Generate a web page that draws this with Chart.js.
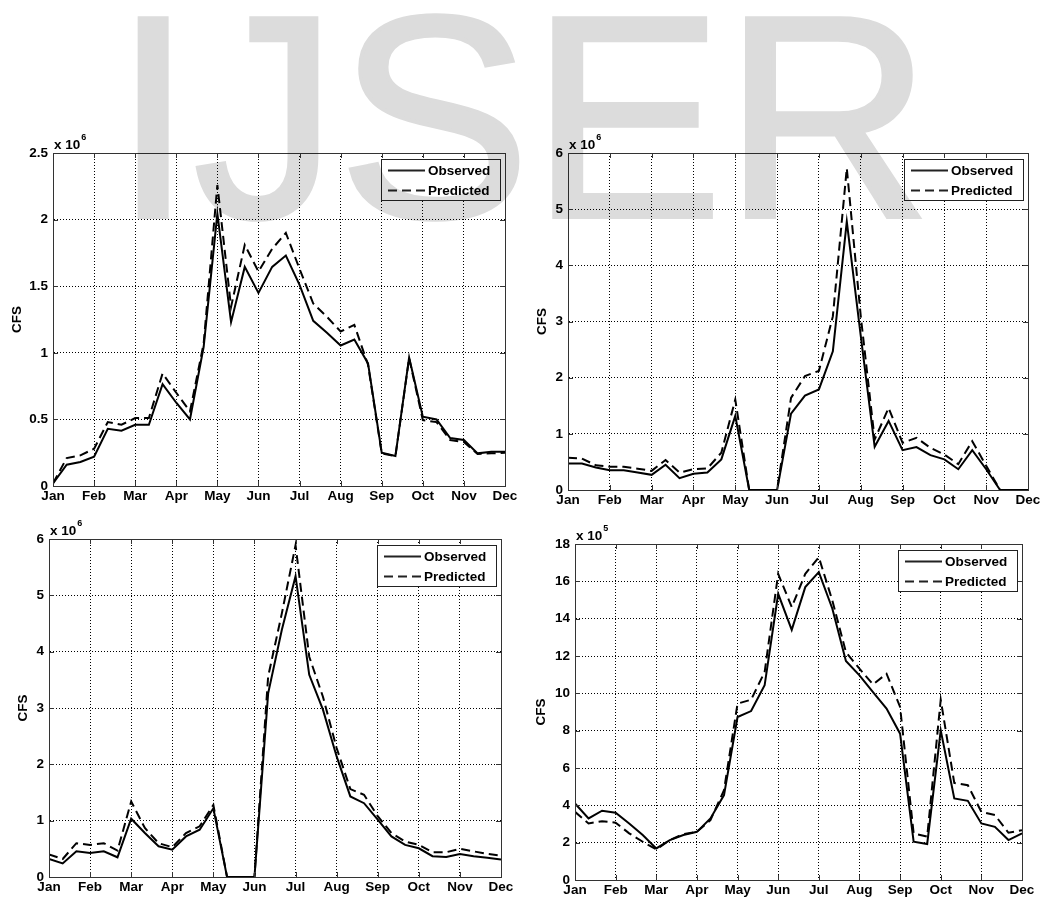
<!DOCTYPE html>
<html>
<head>
<meta charset="utf-8">
<script src="https://cdn.jsdelivr.net/npm/chart.js@4/dist/chart.umd.min.js"></script>
<style>
html,body{margin:0;padding:0;background:#fff;width:1047px;height:901px;overflow:hidden;position:relative;}
#wm{position:absolute;left:113px;top:-28px;font-family:"Liberation Sans",Arial,sans-serif;font-size:289px;line-height:289px;color:#dcdcdc;-webkit-text-stroke:4px #dcdcdc;white-space:nowrap;z-index:5;mix-blend-mode:multiply;pointer-events:none;}
canvas{position:absolute;z-index:1;}
</style>
</head>
<body>
<div id="wm">IJSER</div>
<script>
// ── data ─────────────────────────────
const MONTHS = ['Jan','Feb','Mar','Apr','May','Jun','Jul','Aug','Sep','Oct','Nov','Dec'];

// three readings per month (10-day steps), values in units of 10^expo
const obs1  = [0.02,0.16,0.18,0.22,0.43,0.415,0.46,0.46,0.765,0.625,0.50,1.045,2.045,1.23,1.645,1.45,1.645,1.73,1.51,1.24,1.15,1.055,1.10,0.92,0.25,0.225,0.965,0.52,0.50,0.36,0.345,0.245,0.258,0.258];
const pred1 = [0.02,0.21,0.23,0.28,0.48,0.46,0.51,0.51,0.845,0.70,0.56,1.07,2.26,1.345,1.81,1.61,1.78,1.90,1.63,1.37,1.27,1.16,1.21,0.91,0.245,0.225,0.96,0.495,0.48,0.345,0.33,0.24,0.245,0.25];

const obs2  = [0.47,0.47,0.40,0.35,0.35,0.31,0.27,0.45,0.21,0.29,0.31,0.545,1.32,0,0,0,1.36,1.68,1.79,2.47,4.78,2.75,0.77,1.23,0.71,0.765,0.62,0.545,0.37,0.71,0.37,0,0,0];
const pred2 = [0.575,0.56,0.44,0.415,0.415,0.38,0.34,0.535,0.31,0.37,0.385,0.665,1.61,0,0,0,1.64,2.03,2.12,3.09,5.73,3.1,0.90,1.46,0.84,0.93,0.75,0.63,0.46,0.87,0.43,0,0,0];

const obs3  = [0.32,0.24,0.455,0.425,0.455,0.35,1.035,0.78,0.545,0.485,0.72,0.84,1.22,0,0,0,3.26,4.39,5.34,3.59,2.97,2.14,1.43,1.31,1.02,0.72,0.57,0.51,0.37,0.355,0.41,0.37,0.34,0.31];
const pred3 = [0.40,0.32,0.60,0.57,0.60,0.47,1.34,0.87,0.60,0.53,0.78,0.90,1.28,0,0,0,3.56,4.68,5.89,3.91,3.20,2.29,1.56,1.46,1.08,0.78,0.63,0.57,0.44,0.44,0.50,0.455,0.41,0.38];

const obs4  = [4.10,3.30,3.71,3.60,3.03,2.41,1.69,2.14,2.41,2.58,3.30,4.55,8.73,9.05,10.43,15.33,13.40,15.69,16.49,14.53,11.73,10.96,10.07,9.18,7.84,2.05,1.93,8.02,4.37,4.24,3.03,2.85,2.14,2.50];
const pred4 = [3.65,3.03,3.15,3.07,2.50,2.05,1.64,2.14,2.46,2.58,3.21,4.81,9.45,9.66,11.14,16.40,14.62,16.40,17.29,14.97,12.21,11.32,10.48,11.05,9.27,2.50,2.32,9.66,5.20,5.08,3.65,3.48,2.53,2.67];

const yMax  = [2.5, 6, 6, 18];
const yStep = [0.5, 1, 1, 2];
const expo  = ['6','6','6','5'];
const seriesNames = ['Observed','Predicted'];

// ── layout (plot boxes in page pixels) ─
const BOXES = [
  {l:53,  t:153, r:505,  b:486, titleOff:36},
  {l:568, t:153, r:1028, b:490, titleOff:26},
  {l:49,  t:539, r:501,  b:877, titleOff:26},
  {l:575, t:544, r:1022, b:880, titleOff:34}
];

const FONT = '"Liberation Sans", Arial, sans-serif';
Chart.defaults.font.family = FONT;
Chart.defaults.color = '#000';

const toXY = arr => arr.map((v,i)=>({x:i/3, y:v}));

// matlab-like box, inward ticks, exponent and legend
const matlabBox = {
  id:'matlabBox',
  afterDraw(chart, args, opts){
    const {ctx, chartArea:a, scales} = chart;
    const L = Math.round(a.left), T = Math.round(a.top), R = Math.round(a.right), B = Math.round(a.bottom);
    ctx.save();
    ctx.strokeStyle = '#333';
    ctx.lineWidth = 1;
    ctx.strokeRect(L+0.5, T+0.5, R-L, B-T);

    ctx.beginPath();
    scales.x.ticks.forEach(t=>{
      const px = Math.round(scales.x.getPixelForValue(t.value))+0.5;
      ctx.moveTo(px, T); ctx.lineTo(px, T+5);
      ctx.moveTo(px, B); ctx.lineTo(px, B-5);
    });
    scales.y.ticks.forEach(t=>{
      const py = Math.round(scales.y.getPixelForValue(t.value))+0.5;
      ctx.moveTo(L, py); ctx.lineTo(L+5, py);
      ctx.moveTo(R, py); ctx.lineTo(R-5, py);
    });
    ctx.stroke();

    // x 10^n
    ctx.fillStyle = '#000';
    ctx.textBaseline = 'alphabetic';
    ctx.font = 'bold 13.5px ' + FONT;
    ctx.fillText('x 10', L+1, T-4);
    const w = ctx.measureText('x 10').width;
    ctx.font = 'bold 9px ' + FONT;
    ctx.fillText(opts.expo, L+2+w, T-13);

    // legend (opaque white box)
    const bw = 119, bh = 41;
    const bx = Math.round(R - 5 - bw), by = Math.round(T + 6);
    ctx.fillStyle = '#fff';
    ctx.fillRect(bx, by, bw, bh);
    ctx.strokeStyle = '#222';
    ctx.strokeRect(bx+0.5, by+0.5, bw, bh);
    ctx.fillStyle = '#000';
    ctx.font = 'bold 13.5px ' + FONT;
    ctx.textBaseline = 'middle';
    chart.data.datasets.forEach((ds,i)=>{
      const yy = Math.round(by + 11 + i*20) + 0.5;
      ctx.beginPath();
      ctx.lineWidth = ds.borderWidth;
      ctx.setLineDash(ds.borderDash || []);
      ctx.moveTo(bx+7, yy); ctx.lineTo(bx+44, yy);
      ctx.stroke();
      ctx.setLineDash([]);
      ctx.fillText(ds.label, bx+47, yy+1);
    });
    ctx.restore();
  }
};

function makePanel(k, obs, pred){
  const p = BOXES[k];
  const W = Math.round(p.titleOff + 8), H = 25, padT = 30, padR = 18;
  const left = p.l - W, top = p.t - padT;
  const cv = document.createElement('canvas');
  cv.width = p.r + padR - left;
  cv.height = p.b + H - top;
  cv.style.left = left + 'px';
  cv.style.top = top + 'px';
  document.body.appendChild(cv);

  const tickFont = {family:FONT, size:13.5, weight:'bold'};

  new Chart(cv, {
    type:'line',
    data:{
      datasets:[
        {label:seriesNames[0], data:toXY(obs), borderColor:'#000', borderWidth:2, pointRadius:0, tension:0, fill:false},
        {label:seriesNames[1], data:toXY(pred), borderColor:'#000', borderWidth:2, borderDash:[9,5], pointRadius:0, tension:0, fill:false}
      ]
    },
    options:{
      responsive:false,
      animation:false,
      events:[],
      layout:{padding:{left:0, top:padT, right:padR, bottom:0}},
      plugins:{
        legend:{display:false},
        tooltip:{enabled:false},
        matlabBox:{expo:expo[k]}
      },
      scales:{
        x:{
          type:'linear', min:0, max:11,
          ticks:{stepSize:1, autoSkip:false, maxRotation:0, padding:2, color:'#000', font:tickFont,
                 callback:v=>MONTHS[v] || ''},
          grid:{color:'#000', lineWidth:1, drawTicks:false},
          border:{display:true, color:'#333', dash:[1,2]},
          afterFit(s){ s.height = H; s.paddingLeft = 0; s.paddingRight = 0; }
        },
        y:{
          min:0, max:yMax[k],
          ticks:{stepSize:yStep[k], padding:5, color:'#000', font:tickFont, callback:v=>String(v)},
          grid:{color:'#000', lineWidth:1, drawTicks:false},
          border:{display:true, color:'#333', dash:[1,2]},
          title:{display:true, text:'CFS', padding:0, color:'#000', font:tickFont},
          afterFit(s){ s.width = W; s.paddingTop = 0; s.paddingBottom = 0; }
        }
      }
    },
    plugins:[matlabBox]
  });
}

makePanel(0, obs1, pred1);
makePanel(1, obs2, pred2);
makePanel(2, obs3, pred3);
makePanel(3, obs4, pred4);
</script>
</body>
</html>
